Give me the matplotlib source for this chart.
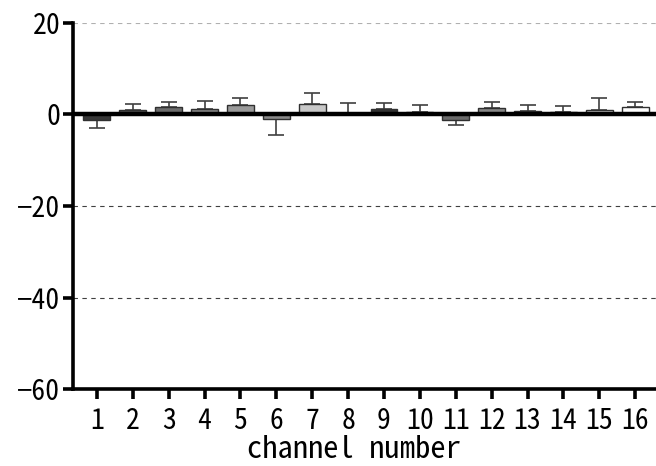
import numpy as np
import matplotlib
matplotlib.use('Agg')
import matplotlib.pyplot as plt

# datos
channels = np.arange(1, 17)
means  = [-1.2, 0.9, 1.6, 1.1, 2.0, -1.1, 2.2, 0.35,
          1.2, 0.45, -1.3, 1.4, 0.65, 0.5, 0.9, 1.65]
errs   = [1.7, 1.4, 1.15, 1.8, 1.5, 3.4, 2.5, 2.15,
          1.2, 1.55, 1.0, 1.4, 1.35, 1.25, 2.7, 0.95]
grays  = ['#383838', '#555555', '#6c6c6c', '#868686', '#9a9a9a', '#8a8a8a', '#c8c8c8', '#2a2a2a',
          '#333333', '#505050', '#6a6a6a', '#888888', '#a8a8a8', '#bababa', '#cccccc', '#ffffff']
yticks = [-60, -40, -20, 0, 20]

tickfont = ['Noto Sans Mono CJK JP', 'Noto Sans CJK JP', 'DejaVu Sans']
labfont  = ['Noto Sans Mono CJK JP', 'Noto Sans CJK JP', 'DejaVu Sans Mono']

fig = plt.figure(figsize=(6.56, 4.66), dpi=100)
ax = fig.add_axes([0.111, 0.165, 0.889, 0.786])

for yv, c in [(20, '#b0b0b0'), (-20, '#404040'), (-40, '#404040')]:
    ax.axhline(yv, color=c, linestyle=(0, (4, 4)), linewidth=0.8, zorder=0)

ax.bar(channels, means, width=0.75, color=grays, edgecolor='#303030',
       linewidth=1.0, zorder=2)
# error bars solo hacia afuera
lo = [e if m < 0 else 0 for m, e in zip(means, errs)]
hi = [e if m >= 0 else 0 for m, e in zip(means, errs)]
ax.errorbar(channels, means, yerr=[lo, hi], fmt='none', ecolor='#404040',
            elinewidth=1.2, capsize=6, capthick=1.2, zorder=1)
ax.axhline(0, color='black', linewidth=3.2, zorder=3)

ax.set_xlim(0.33, 16.58)
ax.set_ylim(-60, 20)
ax.set_yticks(yticks)
ax.set_yticklabels(['\u221260', '\u221240', '\u221220', '0', '20'])
ax.set_xticks(channels)
ax.set_xticklabels([str(c) for c in channels])

for s in ['top', 'right']:
    ax.spines[s].set_visible(False)
for s in ['left', 'bottom']:
    ax.spines[s].set_linewidth(2.6)
ax.tick_params(axis='both', direction='out', length=7, width=2.6, pad=2)
ax.tick_params(axis='x', pad=6)
for lab in ax.get_xticklabels() + ax.get_yticklabels():
    lab.set_family(tickfont)
    lab.set_fontsize(20)

ax.set_xlabel('channel number', family=labfont, fontsize=22, labelpad=0, x=0.482)

fig.savefig('out.png', dpi=100)
